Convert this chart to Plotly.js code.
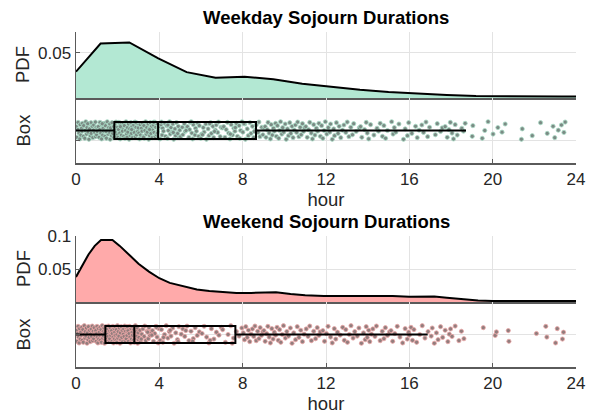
<!DOCTYPE html>
<html><head><meta charset="utf-8">
<script src="https://cdn.plot.ly/plotly-3.0.1.min.js"></script>
<style>html,body{margin:0;padding:0;background:#fff}#chart{width:594px;height:415px}</style>
</head><body><div id="chart"></div>
<script>
const titles = ['Weekday Sojourn Durations', 'Weekend Sojourn Durations'];
const xTicks = [0, 4, 8, 12, 16, 20, 24];
const xTickText = ['0', '4', '8', '12', '16', '20', '24'];

// Kernel density estimates (hour -> PDF)
const weekdayPdfX = [0, 1.18, 2.56, 3.95, 5.31, 6.7, 8.09, 9.47, 10.86, 12.24, 13.63, 15.0, 16.4, 17.8, 19.2, 20.6, 21.9, 23.3, 24];
const weekdayPdfY = [0.0292, 0.0605, 0.0617, 0.0441, 0.0287, 0.0226, 0.0236, 0.0207, 0.0158, 0.0125, 0.0093, 0.0068, 0.0047, 0.0034, 0.0023, 0.0018, 0.0016, 0.0016, 0.0016];
const weekendPdfX = [0, 0.3, 0.6, 0.9, 1.2, 1.75, 2.1, 2.6, 3.0, 3.5, 4.0, 4.5, 5.2, 5.8, 6.4, 7.0, 7.7, 8.4, 9.0, 9.6, 10.3, 11.0, 11.9, 13.0, 14.3, 15.2, 16.0, 16.6, 17.2, 17.8, 18.6, 19.3, 20.0, 21.0, 22.0, 23.0, 24.0];
const weekendPdfY = [0.038, 0.056, 0.072, 0.085, 0.094, 0.094, 0.085, 0.070, 0.058, 0.046, 0.036, 0.029, 0.023, 0.019, 0.0167, 0.0148, 0.0136, 0.0138, 0.0147, 0.0148, 0.0122, 0.0102, 0.0091, 0.0090, 0.0096, 0.0090, 0.0080, 0.0082, 0.0082, 0.0065, 0.0040, 0.0022, 0.0015, 0.0016, 0.0020, 0.0025, 0.0017];

// Box statistics: [lower whisker, Q1, median, Q3, upper whisker]
const weekdayBoxStats = [0, 1.84, 3.94, 8.64, 18.72];
const weekendBoxStats = [0, 1.41, 2.80, 7.65, 16.88];

// Individual sojourn durations (hours)
const weekdayHours = [
0.01,0.04,0.09,0.1,0.14,0.18,0.2,0.23,0.27,0.29,0.31,0.36,0.37,0.42,0.45,0.47,0.51,0.53,0.58,0.61,0.62,0.65,0.69,0.72,0.73,0.78,0.81,0.84,0.85,0.9,0.93,0.94,0.97,0.99,0.56,
1.02,1.05,1.07,1.11,1.14,1.15,1.19,1.23,1.24,1.28,1.3,1.33,1.37,1.39,1.41,1.46,1.48,1.5,1.54,1.57,1.59,1.62,1.64,1.68,1.71,1.73,1.76,1.79,1.82,1.84,1.87,1.89,1.92,1.95,1.97,1.99,1.26,1.44,1.66,1.81,
2.01,2.04,2.06,2.1,2.12,2.15,2.18,2.21,2.23,2.27,2.29,2.32,2.35,2.38,2.4,2.43,2.47,2.49,2.52,2.55,2.58,2.6,2.63,2.66,2.69,2.71,2.74,2.77,2.8,2.83,2.85,2.88,2.91,2.94,2.96,2.99,2.13,2.45,2.67,2.87,
3.02,3.05,3.08,3.1,3.14,3.17,3.19,3.22,3.26,3.28,3.31,3.34,3.37,3.4,3.42,3.46,3.49,3.51,3.54,3.57,3.6,3.63,3.66,3.68,3.71,3.75,3.77,3.8,3.83,3.86,3.88,3.92,3.95,3.98,3.24,3.53,3.73,3.9,
4.03,4.08,4.13,4.16,4.2,4.26,4.3,4.36,4.39,4.43,4.49,4.52,4.56,4.62,4.65,4.69,4.75,4.78,4.82,4.88,4.91,4.95,4.98,4.41,4.67,4.1,
5.02,5.1,5.13,5.2,5.24,5.31,5.35,5.42,5.45,5.49,5.56,5.6,5.63,5.71,5.74,5.78,5.85,5.89,5.92,5.99,5.28,5.53,
6.03,6.11,6.15,6.23,6.26,6.34,6.38,6.46,6.5,6.57,6.61,6.69,6.73,6.8,6.84,6.92,6.96,6.07,6.42,6.65,
7.02,7.09,7.15,7.21,7.27,7.33,7.39,7.45,7.51,7.58,7.63,7.7,7.75,7.83,7.86,7.9,7.97,7.41,7.65,
8.01,8.1,8.13,8.22,8.27,8.35,8.4,8.47,8.53,8.61,8.65,8.74,8.78,8.83,8.92,8.97,8.06,8.56,
9.03,9.08,9.12,9.18,9.22,9.27,9.33,9.37,9.42,9.48,9.52,9.58,9.62,9.67,9.73,9.77,9.82,9.88,9.92,9.97,
10.04,10.09,10.15,10.2,10.26,10.31,10.37,10.42,10.48,10.53,10.59,10.64,10.7,10.76,10.81,10.87,10.92,10.98,
11.03,11.1,11.16,11.22,11.29,11.35,11.41,11.47,11.54,11.6,11.66,11.73,11.79,11.85,11.91,11.97,
12.04,12.11,12.18,12.22,12.3,12.37,12.41,12.5,12.58,12.63,12.71,12.79,12.86,12.95,
13.02,13.1,13.19,13.27,13.33,13.45,13.6,13.66,13.72,13.85,13.93,13.98,
14.05,14.14,14.3,14.45,14.52,14.6,14.71,14.78,14.86,14.95,
15.15,15.22,15.28,15.35,15.5,15.72,15.8,15.91,15.97,
16.12,16.3,16.38,16.47,16.6,16.68,16.8,16.88,16.97,
17.25,17.34,17.5,17.58,17.72,17.82,17.9,17.97,
18.05,18.12,18.2,18.3,18.52,18.6,18.68,
19.02,19.05,19.5,19.62,19.78,
20.02,20.25,20.45,20.6,
21.38,21.42,21.9,
22.3,22.62,22.9,22.98,
23.15,23.3,23.42,23.48
];
const weekendHours = [
0.02,0.04,0.07,0.1,0.12,0.15,0.17,0.2,0.23,0.25,0.28,0.3,0.33,0.35,0.38,0.4,0.43,0.45,0.48,0.5,0.53,0.55,0.58,0.6,0.63,0.65,0.68,0.7,0.73,0.75,0.78,0.8,0.83,0.85,0.88,0.9,0.93,0.95,0.97,0.99,
1.01,1.02,1.05,1.08,1.09,1.12,1.14,1.16,1.17,1.2,1.22,1.25,1.26,1.28,1.31,1.32,1.34,1.37,1.38,1.4,1.43,1.44,1.46,1.49,1.5,1.52,1.55,1.56,1.59,1.61,1.62,1.64,1.67,1.68,1.71,1.73,1.74,1.77,1.78,1.8,1.83,1.84,1.86,1.88,1.9,1.92,1.94,1.96,1.97,1.99,
2.01,2.03,2.06,2.08,2.11,2.13,2.15,2.17,2.2,2.22,2.24,2.27,2.29,2.31,2.34,2.36,2.38,2.41,2.43,2.45,2.48,2.5,2.52,2.55,2.57,2.59,2.62,2.64,2.66,2.69,2.71,2.73,2.76,2.78,2.8,2.83,2.85,2.87,2.9,2.92,2.94,2.96,2.98,2.99,2.46,
3.02,3.07,3.1,3.16,3.21,3.27,3.3,3.35,3.41,3.47,3.5,3.55,3.61,3.67,3.72,3.78,3.84,3.89,3.95,3.98,3.13,3.44,3.64,3.86,
4.04,4.1,4.17,4.25,4.33,4.41,4.48,4.56,4.64,4.71,4.79,4.87,4.94,4.2,4.52,4.9,
5.05,5.13,5.22,5.33,5.42,5.52,5.63,5.72,5.82,5.92,5.27,5.6,
6.05,6.15,6.27,6.38,6.5,6.62,6.74,6.86,6.97,6.44,
7.04,7.17,7.3,7.43,7.56,7.7,7.83,7.96,7.5,
8.03,8.09,8.15,8.22,8.28,8.34,8.4,8.47,8.53,8.59,8.65,8.72,8.78,8.84,8.9,8.97,
9.02,9.08,9.15,9.21,9.27,9.33,9.4,9.46,9.52,9.58,9.65,9.71,9.77,9.83,9.9,9.96,
10.05,10.12,10.2,10.29,10.37,10.45,10.54,10.62,10.7,10.79,10.87,10.95,
11.05,11.14,11.22,11.3,11.41,11.5,11.58,11.66,11.72,11.85,11.93,
12.02,12.1,12.22,12.3,12.4,12.47,12.55,12.68,12.8,12.88,12.95,
13.03,13.12,13.2,13.3,13.38,13.5,13.58,13.7,13.8,13.88,13.93,13.98,
14.05,14.1,14.18,14.25,14.35,14.42,14.6,14.7,14.78,14.85,14.95,
15.05,15.12,15.2,15.3,15.42,15.55,15.68,15.8,15.9,15.97,
16.0,16.08,16.15,16.22,16.35,16.5,16.62,16.75,16.9,
17.05,17.1,17.2,17.3,17.38,17.5,17.6,17.72,17.85,17.92,17.98,
18.05,18.2,18.38,18.5,18.62,
19.55,
20.12,20.18,20.75,20.78,
22.1,22.55,22.6,
23.02,23.1,23.35,23.4
];
// vertical scatter offsets within the box row
const jitter = [0.12,-0.21,0.03,0.25,-0.08,-0.26,0.18,-0.14,0.07,-0.02,0.22,-0.18,0.15,-0.24,0.0,0.27,-0.11,0.09,-0.05,0.2,-0.27,0.05,-0.16,0.24,-0.09,0.13,-0.22,0.01,0.17,-0.06,0.26,-0.19,0.1,-0.13,0.21,-0.03,0.08];

const FONT = 'Liberation Sans, Arial, Helvetica, sans-serif';
const AXC = '#5a5a5a', GRID = '#e3e3e3', TXT = '#262626';

function pdfTrace(x, y, xa, ya, fill) {
  return {type:'scatter', mode:'lines', x:x, y:y, xaxis:xa, yaxis:ya, fill:'tozeroy',
    fillcolor:fill, line:{color:'#000', width:2}, hoverinfo:'skip'};
}
function pointTrace(h, xa, ya, col, edge) {
  return {type:'scatter', mode:'markers', x:h, y:h.map((v,i)=>jitter[i%jitter.length]),
    xaxis:xa, yaxis:ya, marker:{size:4.2, color:col, line:{color:edge, width:0.8}}, hoverinfo:'skip'};
}
function boxTrace(s, xa, ya) {
  return {type:'box', orientation:'h', y:[0], lowerfence:[s[0]], q1:[s[1]], median:[s[2]], q3:[s[3]], upperfence:[s[4]],
    xaxis:xa, yaxis:ya, width:0.52, whiskerwidth:0, boxpoints:false, fillcolor:'rgba(0,0,0,0)',
    line:{color:'#000', width:2}, hoverinfo:'skip'};
}

const data = [
  pdfTrace(weekdayPdfX, weekdayPdfY, 'x', 'y', '#b3e8d3'),
  pointTrace(weekdayHours, 'x2', 'y2', '#7b8a84', '#a9dcc7'),
  boxTrace(weekdayBoxStats, 'x2', 'y5'),
  pdfTrace(weekendPdfX, weekendPdfY, 'x3', 'y3', '#ffaaaa'),
  pointTrace(weekendHours, 'x4', 'y4', '#917d7d', '#eba6a6'),
  boxTrace(weekendBoxStats, 'x4', 'y6')
];

function xAx(anchor, labels) {
  const a = {anchor:anchor, domain:[0,1], range:[0,24], tickvals:xTicks, ticktext:xTickText,
    showticklabels:labels, ticks:labels?'inside':'', ticklen:4, tickcolor:AXC, tickwidth:1,
    showline:true, linecolor:AXC, linewidth:1.5, showgrid:true, gridcolor:GRID, gridwidth:1,
    zeroline:false, tickfont:{family:FONT, size:17, color:TXT}, fixedrange:true};
  if (labels) a.title = {text:'hour', font:{family:FONT, size:18.5, color:TXT}, standoff:4};
  return a;
}
function yAx(anchor, dom, range, tv, tt) {
  return {anchor:anchor, domain:dom, range:range, tickvals:tv, ticktext:tt, ticks:'inside', ticklen:4,
    tickcolor:AXC, showline:true, linecolor:AXC, linewidth:1.5, showgrid:true, gridcolor:GRID, gridwidth:1,
    zeroline:false, tickfont:{family:FONT, size:17, color:TXT}, fixedrange:true};
}
function overlayAx(anchor, base) {
  return {anchor:anchor, overlaying:base, range:[-1, 1], showgrid:false, showline:false, zeroline:false,
    showticklabels:false, ticks:'', fixedrange:true};
}
const H = 415;
const fy = px => 1 - px / H;

const layout = {
  width:594, height:415, margin:{l:76, r:18, t:0, b:0}, paper_bgcolor:'#fff', plot_bgcolor:'rgba(0,0,0,0)',
  showlegend:false, font:{family:FONT, color:TXT},
  xaxis: xAx('y', false),
  yaxis: yAx('x', [fy(98), fy(32)], [0, 0.0733], [0, 0.05], ['', '0.05']),
  xaxis2: xAx('y2', true),
  yaxis2: yAx('x2', [fy(163), fy(98)], [-1, 1], [-0.32], ['']),
  xaxis3: xAx('y3', false),
  yaxis3: yAx('x3', [fy(302), fy(236)], [0, 0.1], [0, 0.05, 0.1], ['', '0.05', '0.1']),
  xaxis4: xAx('y4', true),
  yaxis4: yAx('x4', [fy(367), fy(302)], [-1, 1], [0], ['']),
  yaxis5: overlayAx('x2', 'y2'),
  yaxis6: overlayAx('x4', 'y4'),
  annotations: [
    {text:'<b>'+titles[0]+'</b>', xref:'paper', yref:'paper', x:0.5, y:fy(17), xanchor:'center', yanchor:'middle', showarrow:false, font:{family:FONT, size:18.5, color:'#000'}},
    {text:'<b>'+titles[1]+'</b>', xref:'paper', yref:'paper', x:0.5, y:fy(221), xanchor:'center', yanchor:'middle', showarrow:false, font:{family:FONT, size:18.5, color:'#000'}},
    {text:'PDF', xref:'paper', yref:'paper', x:(23-76)/500, y:fy(65), xanchor:'center', yanchor:'middle', textangle:-90, showarrow:false, font:{family:FONT, size:18.5, color:TXT}},
    {text:'Box', xref:'paper', yref:'paper', x:(23-76)/500, y:fy(130.5), xanchor:'center', yanchor:'middle', textangle:-90, showarrow:false, font:{family:FONT, size:18.5, color:TXT}},
    {text:'PDF', xref:'paper', yref:'paper', x:(23-76)/500, y:fy(269), xanchor:'center', yanchor:'middle', textangle:-90, showarrow:false, font:{family:FONT, size:18.5, color:TXT}},
    {text:'Box', xref:'paper', yref:'paper', x:(23-76)/500, y:fy(334.5), xanchor:'center', yanchor:'middle', textangle:-90, showarrow:false, font:{family:FONT, size:18.5, color:TXT}}
  ]
};

Plotly.newPlot('chart', data, layout, {displayModeBar:false, staticPlot:true});
</script>
</body></html>
